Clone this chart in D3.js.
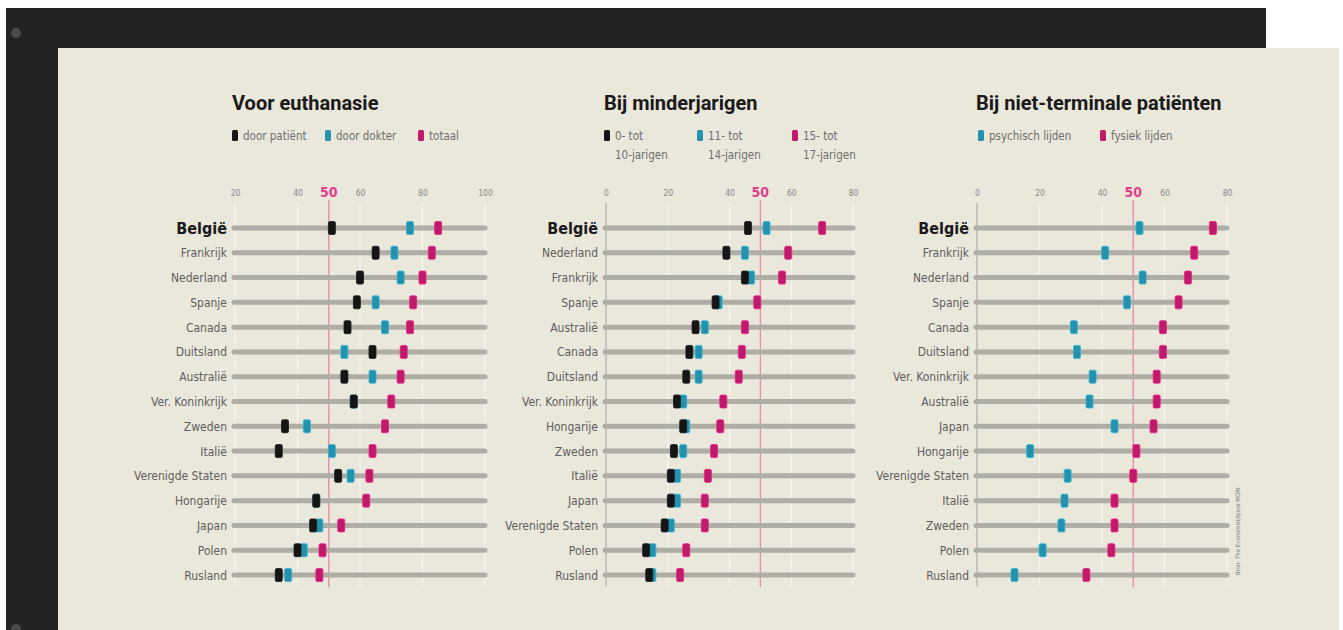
<!DOCTYPE html>
<html><head><meta charset="utf-8">
<script src="https://cdn.jsdelivr.net/npm/d3@7"></script>
<style>
html,body{margin:0;padding:0;background:#fff;}
svg{display:block;}
.cond{font-family:'DejaVu Sans Condensed','DejaVu Sans',sans-serif;font-stretch:condensed;}
</style></head>
<body>
<svg id="c" width="1343" height="630"></svg>
<script>
// ---------- DATA ----------
const countries1 = ["België","Frankrijk","Nederland","Spanje","Canada","Duitsland","Australië","Ver. Koninkrijk","Zweden","Italië","Verenigde Staten","Hongarije","Japan","Polen","Rusland"];
const doorPatient = [51,65,60,59,56,64,55,58,36,34,53,46,45,40,34];
const doorDokter  = [76,71,73,65,68,55,64,58,43,51,57,46,47,42,37];
const totaal      = [85,83,80,77,76,74,73,70,68,64,63,62,54,48,47];
const ticks1 = [20,40,60,80,100];

const countries2 = ["België","Nederland","Frankrijk","Spanje","Australië","Canada","Duitsland","Ver. Koninkrijk","Hongarije","Zweden","Italië","Japan","Verenigde Staten","Polen","Rusland"];
const jaar0tot10  = [46,39,45,35.5,29,27,26,23,25,22,21,21,19,13,14];
const jaar11tot14 = [52,45,47,36.5,32,30,30,25,26,25,23,23,21,15,15];
const jaar15tot17 = [70,59,57,49,45,44,43,38,37,35,33,32,32,26,24];
const ticks2 = [0,20,40,60,80];

const countries3 = ["België","Frankrijk","Nederland","Spanje","Canada","Duitsland","Ver. Koninkrijk","Australië","Japan","Hongarije","Verenigde Staten","Italië","Zweden","Polen","Rusland"];
const psychisch = [52,41,53,48,31,32,37,36,44,17,29,28,27,21,12];
const fysiek    = [75.5,69.5,67.5,64.5,59.5,59.5,57.5,57.5,56.5,51,50,44,44,43,35];
const ticks3 = [0,20,40,60,80];

const title1 = "Voor euthanasie", title2 = "Bij minderjarigen", title3 = "Bij niet-terminale patiënten";
const legend1 = [["door patiënt"],["door dokter"],["totaal"]];
const legend2 = [["0- tot","10-jarigen"],["11- tot","14-jarigen"],["15- tot","17-jarigen"]];
const legend3 = [["psychisch lijden"],["fysiek lijden"]];
const source = "Bron: The Economist/Ipsos MORI";

// ---------- STYLE ----------
const BLACK="#151515", TEAL="#2592ad", PINK="#c01a6b";

const svg = d3.select("#c");
// frame
svg.append("rect").attr("x",6).attr("y",8).attr("width",1260).attr("height",630).attr("fill","#222");
svg.append("circle").attr("cx",16).attr("cy",33).attr("r",5).attr("fill","#4a4a4a");
svg.append("circle").attr("cx",16).attr("cy",629).attr("r",5).attr("fill","#4a4a4a");
svg.append("rect").attr("x",58).attr("y",48).attr("width",1281).attr("height",590).attr("fill","#eae7db");

function panel(cfg){
  const g = svg.append("g");
  const x = d3.scaleLinear().domain(cfg.domain).range(cfg.range);
  const y = d3.scalePoint().domain(cfg.countries).range([228,575]);
  const left = cfg.range[0];
  // title
  g.append("text").attr("x",cfg.titleX).attr("y",110).text(cfg.title)
    .attr("font-family","Roboto, 'Open Sans', sans-serif").attr("font-weight",700)
    .attr("font-size",20).attr("fill","#1a1a1a");
  // legend
  cfg.legend.forEach((lab,i)=>{
    const lx = cfg.legendX[i];
    g.append("rect").attr("x",lx).attr("y",130).attr("width",6).attr("height",11).attr("rx",1.5)
      .attr("fill",cfg.colors[i]);
    lab.forEach((t,j)=>{
      g.append("text").attr("class","cond").attr("x",lx+11).attr("y",140+j*19).text(t)
        .attr("font-size",11.5).attr("fill","#6e6e6e");
    });
  });
  // gridlines
  g.selectAll(".grid").data(cfg.ticks).join("line")
    .attr("x1",d=>x(d)).attr("x2",d=>x(d)).attr("y1",203).attr("y2",586)
    .attr("stroke","#f7f5ee").attr("stroke-width",1.2);
  if(cfg.axisLine){
    g.append("line").attr("x1",x(cfg.domain[0])).attr("x2",x(cfg.domain[0])).attr("y1",203).attr("y2",586)
      .attr("stroke","#a9a8a2").attr("stroke-width",1.2);
  }
  // tick labels via axis
  const ax = g.append("g").attr("transform","translate(0,196)")
    .call(d3.axisTop(x).tickValues(cfg.ticks).tickSize(0).tickPadding(0));
  ax.select(".domain").remove();
  ax.selectAll("text").attr("class","cond").attr("font-size",8.5).attr("fill","#888");
  // 50 line
  g.append("line").attr("x1",x(50)).attr("x2",x(50)).attr("y1",200).attr("y2",587)
    .attr("stroke","#e88aa8").attr("stroke-width",1.3);
  g.append("text").attr("class","cond").attr("x",x(50)).attr("y",197).attr("text-anchor","middle").text("50")
    .attr("font-weight",700).attr("font-size",14).attr("fill","#e0408a");
  // bars
  g.selectAll(".bar").data(cfg.countries).join("line")
    .attr("x1",x(cfg.domain[0])-1).attr("x2",x(cfg.domain[1]))
    .attr("y1",d=>y(d)).attr("y2",d=>y(d))
    .attr("stroke","#aeada6").attr("stroke-width",5).attr("stroke-linecap","round");
  // labels
  g.selectAll(".lab").data(cfg.countries).join("text")
    .attr("class","cond")
    .attr("x",left-8).attr("y",d=>y(d)+ (d==="België"?5.5:4.5)).attr("text-anchor","end")
    .text(d=>d)
    .attr("font-weight",d=>d==="België"?700:400)
    .attr("font-size",d=>d==="België"?16:12)
    .attr("fill",d=>d==="België"?"#1a1a1a":"#5e5e5e");
  // markers
  cfg.order.forEach(si=>{
    const vals = cfg.series[si];
    g.selectAll(null).data(cfg.countries).join("rect")
      .attr("x",(d,i)=>x(vals[i])-3.5).attr("y",d=>y(d)-6.5)
      .attr("width",7).attr("height",13).attr("rx",1.5)
      .attr("fill",cfg.colors[si])
      .attr("stroke",d3.color(cfg.colors[si]).brighter(0.6)).attr("stroke-width",0.8);
  });
}

panel({title:title1,titleX:232,countries:countries1,domain:[20,100],range:[235,485],ticks:ticks1,
  series:[doorPatient,doorDokter,totaal],order:[1,0,2],colors:[BLACK,TEAL,PINK],
  legend:legend1,legendX:[232,325,418],axisLine:false});
panel({title:title2,titleX:604,countries:countries2,domain:[0,80],range:[606,853],ticks:ticks2,
  series:[jaar0tot10,jaar11tot14,jaar15tot17],order:[1,0,2],colors:[BLACK,TEAL,PINK],
  legend:legend2,legendX:[604,697,792],axisLine:true});
panel({title:title3,titleX:976,countries:countries3,domain:[0,80],range:[977,1227],ticks:ticks3,
  series:[psychisch,fysiek],order:[0,1],colors:[TEAL,PINK],
  legend:legend3,legendX:[978,1100],axisLine:true});

svg.append("text").attr("class","cond").attr("transform","translate(1240,575) rotate(-90)").text(source)
  .attr("font-size",6).attr("fill","#777");
</script>
</body></html>
